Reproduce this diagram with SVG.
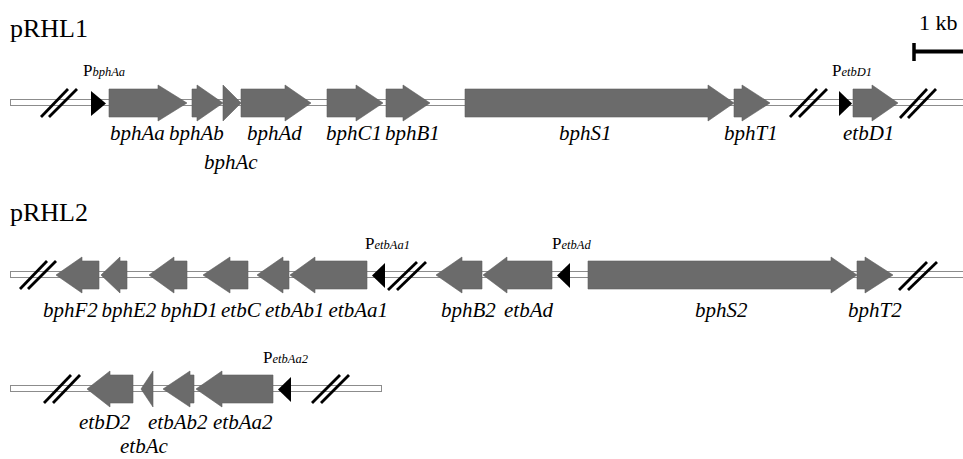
<svg xmlns="http://www.w3.org/2000/svg" width="963" height="459" viewBox="0 0 963 459" font-family="'Liberation Serif', 'Times New Roman', Times, 'DejaVu Serif', serif">
<style>
.bb{fill:#fff;stroke:#8c8c8c;stroke-width:1}
.g{fill:#6b6b6b;stroke:#5e5e5e;stroke-width:0.6}
.pr{fill:#000}
.sl{stroke:#000;stroke-width:2.8;fill:none}
text{font-family:"Liberation Serif","Times New Roman",Times,"DejaVu Serif",serif;fill:#000}
.lb{font-style:italic;font-size:21px}
.pp{font-size:17px}
.ps{font-style:italic;font-size:12.5px}
.title{font-size:26px}
</style>
<rect width="963" height="459" fill="#fff"/>
<text class="title" x="10" y="37">pRHL1</text>
<text class="title" x="10" y="221">pRHL2</text>
<g id="scalebar">
<line x1="914" y1="43" x2="914" y2="61" stroke="#000" stroke-width="3.5"/>
<line x1="914" y1="51.5" x2="963" y2="51.5" stroke="#000" stroke-width="4"/>
<text x="919" y="30" font-size="22">1 kb</text>
</g>
<g id="connectors">
<rect class="bb" x="10.5" y="99.5" width="955" height="6"/>
<rect class="bb" x="10.5" y="271.5" width="955" height="6"/>
<rect class="bb" x="10.5" y="385.5" width="371" height="6"/>
<line class="sl" x1="41" y1="117" x2="68" y2="89"/><line class="sl" x1="49" y1="117" x2="77" y2="89"/>
<line class="sl" x1="790" y1="117" x2="817" y2="89"/><line class="sl" x1="799" y1="117" x2="827" y2="89"/>
<line class="sl" x1="900" y1="118" x2="927" y2="89"/><line class="sl" x1="908" y1="118" x2="936" y2="89"/>
<line class="sl" x1="20" y1="289" x2="47" y2="261"/><line class="sl" x1="28" y1="289" x2="56" y2="261"/>
<line class="sl" x1="388" y1="290" x2="417" y2="262"/><line class="sl" x1="397" y1="290" x2="426" y2="262"/>
<line class="sl" x1="899" y1="290" x2="927" y2="262"/><line class="sl" x1="908" y1="290" x2="937" y2="262"/>
<line class="sl" x1="44" y1="403" x2="71" y2="375"/><line class="sl" x1="53" y1="403" x2="80" y2="375"/>
<line class="sl" x1="312" y1="403" x2="340" y2="375"/><line class="sl" x1="321" y1="403" x2="349" y2="375"/>
</g>
<!-- row 1 -->
<g id="PbphAa"><path class="pr" d="M91,91 L106,103.5 L91,116 Z"/><text class="pp" x="83" y="76">P<tspan class="ps">bphAa</tspan></text></g>
<g id="bphAa"><path class="g" d="M109,89 H158 V85 L187,103 L158,121 V117 H109 Z"/><text class="lb" x="110" y="140">bphAa</text></g>
<g id="bphAb"><path class="g" d="M192,89 H197 V85 L223,103 L197,121 V117 H192 Z"/><text class="lb" x="169" y="140">bphAb</text></g>
<g id="bphAc"><path class="g" d="M223,85 L241,103 L223,121 Z"/><text class="lb" x="204" y="169">bphAc</text></g>
<g id="bphAd"><path class="g" d="M241,89 H285 V85 L311,103 L285,121 V117 H241 Z"/><text class="lb" x="247" y="140">bphAd</text></g>
<g id="bphC1"><path class="g" d="M327,89 H356 V85 L383,103 L356,121 V117 H327 Z"/><text class="lb" x="326" y="140">bphC1</text></g>
<g id="bphB1"><path class="g" d="M386,89 H403 V85 L430,103 L403,121 V117 H386 Z"/><text class="lb" x="385" y="140">bphB1</text></g>
<g id="bphS1"><path class="g" d="M465,89 H708 V85 L734,103 L708,121 V117 H465 Z"/><text class="lb" x="559" y="140">bphS1</text></g>
<g id="bphT1"><path class="g" d="M734,89 H742 V85 L770,103 L742,121 V117 H734 Z"/><text class="lb" x="724" y="140">bphT1</text></g>
<g id="PetbD1"><path class="pr" d="M839,91 L852,103.5 L839,116 Z"/><text class="pp" x="832" y="76">P<tspan class="ps">etbD1</tspan></text></g>
<g id="etbD1"><path class="g" d="M853,89 H872 V85 L898,103 L872,121 V117 H853 Z"/><text class="lb" x="843" y="140">etbD1</text></g>
<!-- row 2 -->
<g id="bphF2"><path class="g" d="M56,275 L82,257 V261 H99 V289 H82 V293 Z"/><text class="lb" x="43" y="317">bphF2</text></g>
<g id="bphE2"><path class="g" d="M101,275 L120,257 V261 H127 V289 H120 V293 Z"/><text class="lb" x="101.5" y="317">bphE2</text></g>
<g id="bphD1"><path class="g" d="M149,275 L174,257 V261 H187 V289 H174 V293 Z"/><text class="lb" x="160.5" y="317">bphD1</text></g>
<g id="etbC"><path class="g" d="M203,275 L230,257 V261 H248 V289 H230 V293 Z"/><text class="lb" x="221" y="317">etbC</text></g>
<g id="etbAb1"><path class="g" d="M257,275 L283,257 V261 H289 V289 H283 V293 Z"/><text class="lb" x="265" y="317">etbAb1</text></g>
<g id="etbAa1"><path class="g" d="M290,275 L315,257 V261 H367 V289 H315 V293 Z"/><text class="lb" x="328.5" y="317">etbAa1</text></g>
<g id="PetbAa1"><path class="pr" d="M372,275.5 L385,263 V288 Z"/><text class="pp" x="365" y="249">P<tspan class="ps">etbAa1</tspan></text></g>
<g id="bphB2"><path class="g" d="M436,275 L462,257 V261 H482 V289 H462 V293 Z"/><text class="lb" x="441" y="317">bphB2</text></g>
<g id="etbAd"><path class="g" d="M483,275 L507,257 V261 H552 V289 H507 V293 Z"/><text class="lb" x="504" y="317">etbAd</text></g>
<g id="PetbAd"><path class="pr" d="M557,275.5 L570,263 V288 Z"/><text class="pp" x="552" y="249">P<tspan class="ps">etbAd</tspan></text></g>
<g id="bphS2"><path class="g" d="M588,261 H831 V257 L857,275 L831,293 V289 H588 Z"/><text class="lb" x="695" y="317">bphS2</text></g>
<g id="bphT2"><path class="g" d="M857,261 H865 V257 L893,275 L865,293 V289 H857 Z"/><text class="lb" x="848" y="317">bphT2</text></g>
<!-- row 3 -->
<g id="etbD2"><path class="g" d="M87,389 L110,371 V375 H133 V403 H110 V407 Z"/><text class="lb" x="79" y="429">etbD2</text></g>
<g id="etbAc"><path class="g" d="M141,389 L153,371 V407 Z"/><text class="lb" x="120" y="453">etbAc</text></g>
<g id="etbAb2"><path class="g" d="M163,389 L190,371 V375 H194 V403 H190 V407 Z"/><text class="lb" x="148" y="429">etbAb2</text></g>
<g id="etbAa2"><path class="g" d="M196,389 L222,371 V375 H273 V403 H222 V407 Z"/><text class="lb" x="213" y="429">etbAa2</text></g>
<g id="PetbAa2"><path class="pr" d="M278,389.5 L291,377 V402 Z"/><text class="pp" x="263" y="363">P<tspan class="ps">etbAa2</tspan></text></g>
</svg>
